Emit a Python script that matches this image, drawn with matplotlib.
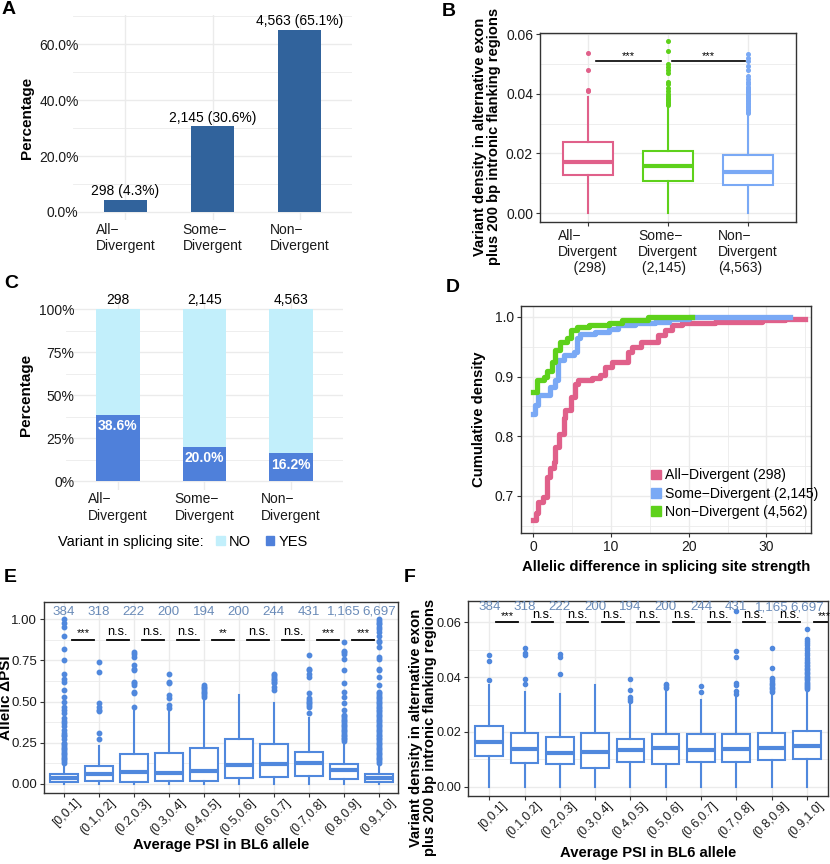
import numpy as np
import matplotlib.pyplot as plt
import matplotlib.transforms as mtransforms
from matplotlib.patches import Patch

plt.rcParams['font.family'] = ['Liberation Sans', 'DejaVu Sans']

# ---------------- data ----------------
groups_a = ['All\u2212\nDivergent', 'Some\u2212\nDivergent', 'Non\u2212\nDivergent']
counts_a = [298, 2145, 4563]
pct_a = [4.3, 30.6, 65.1]

groups_b = ['All\u2212\nDivergent\n    (298)', 'Some\u2212\nDivergent\n (2,145)', 'Non\u2212\nDivergent\n(4,563)']
b_q1 = [0.0128, 0.0107, 0.0094]
b_med = [0.0170, 0.0159, 0.0139]
b_q3 = [0.0237, 0.0208, 0.0194]
b_lo = [0.0, 0.0, 0.0]
b_hi = [0.0389, 0.0356, 0.0328]
b_fliers = [
    [0.0409, 0.0413, 0.0481, 0.0537],
    [0.0362, 0.0366, 0.0370, 0.0374, 0.0378, 0.0383, 0.0388, 0.0394, 0.0400, 0.0410,
     0.0420, 0.0432, 0.0440, 0.0470, 0.0480, 0.0490, 0.0500, 0.0544, 0.0578],
    [0.0336, 0.0340, 0.0345, 0.0350, 0.0355, 0.0360, 0.0365, 0.0370, 0.0375, 0.0380,
     0.0385, 0.0390, 0.0395, 0.0400, 0.0405, 0.0410, 0.0415, 0.0420, 0.0425, 0.0432,
     0.0440, 0.0450, 0.0460, 0.0480, 0.0495, 0.0510, 0.0522, 0.0533],
]

yes_pct = [38.6, 20.0, 16.2]

# ECDF steps
all_x = [0, 0.3, 0.6, 1.2, 1.7, 2.1, 2.6, 2.8, 3.3, 3.9, 4.1, 4.9, 5.4, 5.8, 7.5, 8.6,
         9.2, 10.1, 12.2, 12.7, 13.9, 16.1, 17.0, 17.8, 19.1, 23.4, 29.4, 32.4, 35.0]
all_y = [0.659, 0.672, 0.690, 0.698, 0.732, 0.746, 0.757, 0.782, 0.804, 0.830, 0.844,
         0.866, 0.888, 0.894, 0.897, 0.902, 0.916, 0.925, 0.941, 0.950, 0.958, 0.969,
         0.978, 0.986, 0.989, 0.992, 0.994, 0.997, 0.997]
some_x = [0, 0.2, 0.6, 2.1, 2.8, 3.2, 3.9, 5.2, 5.6, 6.0, 7.9, 9.7, 10.9, 13.1, 15.7,
          17.4, 20.0, 33.0]
some_y = [0.838, 0.852, 0.869, 0.883, 0.894, 0.927, 0.936, 0.941, 0.964, 0.972, 0.975,
          0.980, 0.986, 0.989, 0.992, 0.997, 1.000, 1.000]
non_x = [0, 0.4, 1.3, 1.7, 2.4, 2.8, 3.4, 4.3, 4.9, 5.6, 7.1, 9.7, 11.4, 14.8, 20.4]
non_y = [0.874, 0.894, 0.899, 0.910, 0.925, 0.944, 0.958, 0.964, 0.978, 0.983, 0.986,
         0.989, 0.994, 0.999, 1.000]
d_labels = ['All\u2212Divergent (298)', 'Some\u2212Divergent (2,145)', 'Non\u2212Divergent (4,562)']

psi_bins = ['[0,0.1]', '(0.1,0.2]', '(0.2,0.3]', '(0.3,0.4]', '(0.4,0.5]',
            '(0.5,0.6]', '(0.6,0.7]', '(0.7,0.8]', '(0.8,0.9]', '(0.9,1.0]']
bin_counts = [384, 318, 222, 200, 194, 200, 244, 431, 1165, 6697]

e_q1 = [0.010, 0.018, 0.014, 0.020, 0.020, 0.034, 0.042, 0.049, 0.032, 0.014]
e_med = [0.034, 0.061, 0.071, 0.065, 0.077, 0.115, 0.121, 0.126, 0.085, 0.034]
e_q3 = [0.059, 0.111, 0.184, 0.188, 0.217, 0.271, 0.243, 0.192, 0.121, 0.059]
e_hi = [0.126, 0.230, 0.450, 0.440, 0.520, 0.540, 0.490, 0.400, 0.250, 0.120]
e_fliers = [
    [0.13, 0.14, 0.15, 0.16, 0.17, 0.18, 0.19, 0.20, 0.21, 0.22, 0.23, 0.24, 0.25, 0.27,
     0.29, 0.30, 0.31, 0.33, 0.35, 0.37, 0.38, 0.40, 0.43, 0.45, 0.47, 0.50, 0.53, 0.57,
     0.62, 0.64, 0.67, 0.75, 0.82, 0.90, 0.95, 0.98, 1.00],
    [0.27, 0.31, 0.44, 0.45, 0.47, 0.49, 0.68, 0.74],
    [0.47, 0.55, 0.56, 0.60, 0.61, 0.62, 0.69, 0.70, 0.72, 0.77, 0.79, 0.80],
    [0.46, 0.48, 0.52, 0.54, 0.61, 0.62, 0.67],
    [0.53, 0.54, 0.55, 0.56, 0.57, 0.58, 0.59, 0.60],
    [],
    [0.57, 0.59, 0.61, 0.62, 0.63, 0.64, 0.65, 0.66, 0.67],
    [0.43, 0.47, 0.48, 0.49, 0.50, 0.51, 0.52, 0.55, 0.65, 0.67, 0.69, 0.70, 0.78],
    [0.26, 0.27, 0.28, 0.29, 0.30, 0.31, 0.32, 0.33, 0.34, 0.35, 0.36, 0.37, 0.38, 0.39,
     0.40, 0.41, 0.42, 0.45, 0.49, 0.53, 0.56, 0.61, 0.69, 0.76, 0.79, 0.80, 0.81, 0.86],
    [0.13, 0.14, 0.15, 0.16, 0.17, 0.18, 0.19, 0.20, 0.21, 0.22, 0.23, 0.24, 0.25, 0.26,
     0.27, 0.28, 0.29, 0.30, 0.31, 0.32, 0.33, 0.34, 0.35, 0.36, 0.37, 0.38, 0.39, 0.40,
     0.41, 0.42, 0.43, 0.44, 0.45, 0.46, 0.47, 0.48, 0.49, 0.50, 0.51, 0.52, 0.53, 0.54,
     0.55, 0.56, 0.60, 0.65, 0.69, 0.70, 0.76, 0.77, 0.83, 0.86, 0.87, 0.90, 0.92, 0.94,
     0.95, 0.97, 0.98, 0.99, 1.00],
]
e_sig = ['***', 'n.s.', 'n.s.', 'n.s.', '**', 'n.s.', 'n.s.', '***', '***']

f_q1 = [0.0112, 0.0088, 0.0082, 0.0068, 0.0091, 0.0082, 0.0089, 0.0090, 0.0097, 0.0100]
f_med = [0.0164, 0.0139, 0.0124, 0.0125, 0.0133, 0.0142, 0.0134, 0.0136, 0.0140, 0.0148]
f_q3 = [0.0221, 0.0195, 0.0183, 0.0197, 0.0176, 0.0192, 0.0191, 0.0191, 0.0195, 0.0202]
f_hi = [0.0371, 0.0347, 0.0338, 0.0371, 0.0304, 0.0353, 0.0316, 0.0329, 0.0335, 0.0352]
f_fliers = [
    [0.0390, 0.0458, 0.0482],
    [0.0375, 0.0395, 0.0480, 0.0487, 0.0505],
    [0.0412, 0.0475, 0.0485],
    [],
    [0.0312, 0.0320, 0.0328, 0.0352, 0.0393],
    [0.0360, 0.0365, 0.0370, 0.0375],
    [0.0345, 0.0368],
    [0.0340, 0.0350, 0.0372, 0.0378, 0.0475, 0.0497, 0.0640],
    [0.0345, 0.0350, 0.0355, 0.0360, 0.0365, 0.0370, 0.0375, 0.0380, 0.0385, 0.0392,
     0.0397, 0.0433, 0.0505],
    [0.0356, 0.0360, 0.0364, 0.0368, 0.0372, 0.0376, 0.0380, 0.0384, 0.0388, 0.0392,
     0.0396, 0.0400, 0.0405, 0.0410, 0.0415, 0.0420, 0.0425, 0.0430, 0.0435, 0.0440,
     0.0445, 0.0450, 0.0455, 0.0462, 0.0470, 0.0480, 0.0490, 0.0500, 0.0508, 0.0516,
     0.0525, 0.0533, 0.0540, 0.0575],
]
f_sig = ['***', 'n.s.', 'n.s.', 'n.s.', 'n.s.', 'n.s.', 'n.s.', 'n.s.', 'n.s.', '***']

# ---------------- style ----------------
PINK = '#E0608A'
LBLUE = '#7AA9F5'
GREEN = '#5ED11B'
BOXC = '#5088DD'
CNT = '#6A8BB8'
GRID = '#EBEBEB'
BAR_A = '#31639C'
NO_C = '#C2EFFB'
YES_C = '#4F80DA'

fig = plt.figure(figsize=(8.3, 8.64), dpi=100)


def base(ax, border=True, fs=10, pad=2):
    ax.set_axisbelow(True)
    for s in ax.spines.values():
        s.set_visible(border)
        s.set_color('#333333')
        s.set_linewidth(1.0)
    ax.grid(True, which='major', color=GRID, lw=1.0)
    ax.grid(True, which='minor', color=GRID, lw=0.6)
    ax.tick_params(which='major', labelsize=fs, length=3 if border else 0,
                   color='#333333', labelcolor='#1a1a1a', pad=pad)
    ax.tick_params(which='minor', length=0)


def boxes(ax, q1, med, q3, lo, hi, fliers, colors, width, ms=3.0):
    stats = []
    for i in range(len(q1)):
        stats.append(dict(q1=q1[i], med=med[i], q3=q3[i], whislo=lo[i],
                          whishi=hi[i], fliers=fliers[i]))
    pos = np.arange(1, len(q1) + 1)
    art = ax.bxp(stats, positions=pos, widths=width, patch_artist=True,
                 showcaps=False, manage_ticks=False)
    for i, c in enumerate(colors):
        art['boxes'][i].set(facecolor='white', edgecolor=c, linewidth=1.5)
        art['medians'][i].set(color=c, linewidth=3.0)
        art['whiskers'][2 * i].set(color=c, linewidth=1.5)
        art['whiskers'][2 * i + 1].set(color=c, linewidth=1.5)
        art['fliers'][i].set(marker='o', markerfacecolor=c, markeredgecolor=c,
                             markersize=ms, linestyle='none')
    return pos


def rot_labels(ax, labels):
    ax.set_xticklabels(labels, rotation=45, ha='right', va='top',
                       rotation_mode='anchor', fontsize=8.8)
    shift = mtransforms.ScaledTranslation(11 / 100, 3 / 100, fig.dpi_scale_trans)
    for t in ax.get_xticklabels():
        t.set_transform(t.get_transform() + shift)


def letter(x, y, s):
    fig.text(x / 830, 1 - y / 864, s, fontsize=14, fontweight='bold', va='center', ha='left')


# ---------------- A ----------------
axA = fig.add_axes([0.0880, 0.7454, 0.3361, 0.2373])
base(axA, border=False, pad=-4)
xa = np.arange(1, 4)
axA.bar(xa, pct_a, width=0.5, color=BAR_A)
for xi, n, p in zip(xa, counts_a, pct_a):
    axA.text(xi, p + 0.6, f'{n:,} ({p}%)', ha='center', va='bottom', fontsize=10)
axA.set_xlim(0.4, 3.6)
axA.set_ylim(-2.9, 70.5)
axA.set_yticks([0, 20, 40, 60])
axA.set_yticklabels(['0.0%', '20.0%', '40.0%', '60.0%'])
axA.set_yticks([10, 30, 50, 70], minor=True)
axA.set_xticks(xa)
axA.set_xticklabels(groups_a, multialignment='left', fontsize=10)
axA.tick_params(axis='x', pad=2)
axA.set_ylabel('Percentage', fontsize=11, fontweight='bold', labelpad=4)
letter(2, 10, 'A')

# ---------------- B ----------------
axB = fig.add_axes([0.6506, 0.7431, 0.3084, 0.2188])
base(axB)
boxes(axB, b_q1, b_med, b_q3, b_lo, b_hi, b_fliers, [PINK, GREEN, LBLUE], 0.62, ms=2.6)
axB.set_xlim(0.4, 3.6)
axB.set_ylim(-0.003, 0.0605)
axB.set_yticks([0, 0.02, 0.04, 0.06])
axB.set_yticklabels(['0.00', '0.02', '0.04', '0.06'])
axB.set_yticks([0.01, 0.03, 0.05], minor=True)
axB.set_xticks([1, 2, 3])
axB.set_xticklabels(groups_b, multialignment='left', fontsize=10)
axB.plot([1.10, 1.91], [0.0509, 0.0509], color='black', lw=1.2)
axB.plot([2.05, 2.96], [0.0509, 0.0509], color='black', lw=1.2)
axB.text(1.5, 0.0512, '***', ha='center', va='bottom', fontsize=8)
axB.text(2.5, 0.0512, '***', ha='center', va='bottom', fontsize=8)
axB.set_ylabel('Variant density in alternative exon\nplus 200 bp intronic flanking regions',
               fontsize=10.6, fontweight='bold', linespacing=1.0)
axB.yaxis.set_label_coords(-0.152, 0.45)
letter(442, 12, 'B')

# ---------------- C ----------------
axC = fig.add_axes([0.0795, 0.4333, 0.3337, 0.2186])
base(axC, border=False, pad=-6)
xc = np.arange(1, 4)
no_pct = [100 - v for v in yes_pct]
axC.bar(xc, yes_pct, width=0.5, color=YES_C)
axC.bar(xc, no_pct, width=0.5, bottom=yes_pct, color=NO_C)
for xi, n, p in zip(xc, counts_a, yes_pct):
    axC.text(xi, 101.2, f'{n:,}', ha='center', va='bottom', fontsize=10)
    axC.text(xi, p - 2.5, f'{p:.1f}%', ha='center', va='top', fontsize=10,
             color='white', fontweight='bold')
axC.set_xlim(0.4, 3.6)
axC.set_ylim(-5, 105)
axC.set_yticks([0, 25, 50, 75, 100])
axC.set_yticklabels(['0%', '25%', '50%', '75%', '100%'])
axC.set_yticks([12.5, 37.5, 62.5, 87.5], minor=True)
axC.set_xticks(xc)
axC.set_xticklabels(groups_a, multialignment='left', fontsize=10)
axC.tick_params(axis='x', pad=2)
axC.set_ylabel('Percentage', fontsize=11, fontweight='bold', labelpad=4)
fig.text(58 / 830, 1 - 542 / 864, 'Variant in splicing site:', fontsize=10.5, va='center')
fig.legend(handles=[Patch(color=NO_C), Patch(color=YES_C)], labels=['NO', 'YES'],
           loc='center left', bbox_to_anchor=(216 / 830, 1 - 542 / 864), ncol=2,
           frameon=False, fontsize=10.5, handlelength=0.6, handleheight=0.6,
           handletextpad=0.3, columnspacing=1.0, borderpad=0, borderaxespad=0)
letter(4, 284, 'C')

# ---------------- D ----------------
axD = fig.add_axes([0.6277, 0.3831, 0.3494, 0.2627])
base(axD)
axD.step(all_x, all_y, where='post', color=PINK, lw=3.8, label=d_labels[0])
axD.step(some_x, some_y, where='post', color=LBLUE, lw=3.8, label=d_labels[1])
axD.step(non_x, non_y, where='post', color=GREEN, lw=3.8, label=d_labels[2])
axD.set_xlim(-1.6, 35.75)
axD.set_ylim(0.638, 1.018)
axD.set_xticks([0, 10, 20, 30])
axD.set_xticks([5, 15, 25, 35], minor=True)
axD.set_yticks([0.7, 0.8, 0.9, 1.0])
axD.set_yticks([0.65, 0.75, 0.85, 0.95], minor=True)
axD.set_xlabel('Allelic difference in splicing site strength', fontsize=10.7, fontweight='bold')
axD.set_ylabel('Cumulative density', fontsize=10.7, fontweight='bold', labelpad=6)
axD.legend(handles=[Patch(color=PINK), Patch(color=LBLUE), Patch(color=GREEN)],
           labels=d_labels, loc='lower right', bbox_to_anchor=(1.055, 0.025), frameon=False,
           fontsize=10.1, handlelength=0.7, handleheight=0.7, handletextpad=0.3,
           labelspacing=0.3, borderpad=0.1)
letter(446, 288, 'D')

# ---------------- E ----------------
axE = fig.add_axes([0.0530, 0.0822, 0.4265, 0.2211])
base(axE, fs=9.5)
pe = boxes(axE, e_q1, e_med, e_q3, [0] * 10, e_hi, e_fliers, [BOXC] * 10, 0.8, ms=3.2)
axE.set_xlim(0.44, 10.55)
axE.set_ylim(-0.055, 1.105)
axE.set_yticks([0, 0.25, 0.5, 0.75, 1.0])
axE.set_yticklabels(['0.00', '0.25', '0.50', '0.75', '1.00'])
axE.set_yticks([0.125, 0.375, 0.625, 0.875], minor=True)
axE.set_xticks(pe)
rot_labels(axE, psi_bins)
for xi, n in zip(pe, bin_counts):
    axE.text(xi, 1.045, f'{n:,}', ha='center', va='center', fontsize=9.6, color=CNT)
for i, s in enumerate(e_sig):
    x0 = pe[i] + 0.24
    axE.plot([x0, x0 + 0.62], [0.875, 0.875], color='black', lw=1.3)
    axE.text(x0 + 0.31, 0.885, s, ha='center', va='bottom',
             fontsize=8 if '*' in s else 9.2)
axE.set_xlabel('Average PSI in BL6 allele', fontsize=10.7, fontweight='bold')
axE.xaxis.set_label_coords(0.5, -0.235)
axE.set_ylabel('Allelic \u0394PSI', fontsize=11, fontweight='bold')
axE.yaxis.set_label_coords(-0.088, 0.5)
letter(4, 577, 'E')

# ---------------- F ----------------
axF = fig.add_axes([0.5639, 0.0790, 0.4337, 0.2257])
base(axF, fs=9.2)
pf = boxes(axF, f_q1, f_med, f_q3, [0] * 10, f_hi, f_fliers, [BOXC] * 10, 0.78, ms=3.0)
axF.set_xlim(0.4, 10.6)
axF.set_ylim(-0.0033, 0.0679)
axF.set_yticks([0, 0.02, 0.04, 0.06])
axF.set_yticklabels(['0.00', '0.02', '0.04', '0.06'])
axF.set_yticks([0.01, 0.03, 0.05], minor=True)
axF.set_xticks(pf)
rot_labels(axF, psi_bins)
for xi, n in zip(pf, bin_counts):
    axF.text(xi, 0.0656, f'{n:,}', ha='center', va='center', fontsize=9.6, color=CNT)
for i, s in enumerate(f_sig):
    x0 = pf[i] + 0.2
    axF.plot([x0, x0 + 0.61], [0.0600, 0.0600], color='black', lw=1.3)
    axF.text(x0 + 0.3, 0.0604, s, ha='center', va='bottom',
             fontsize=8 if '*' in s else 9.2)
axF.set_xlabel('Average PSI in BL6 allele', fontsize=10.7, fontweight='bold')
axF.xaxis.set_label_coords(0.5, -0.26)
axF.set_ylabel('Variant density in alternative exon\nplus 200 bp intronic flanking regions',
               fontsize=10.6, fontweight='bold', linespacing=1.0)
axF.yaxis.set_label_coords(-0.086, 0.35)
letter(404, 577, 'F')

fig.savefig('out.png', dpi=100)
